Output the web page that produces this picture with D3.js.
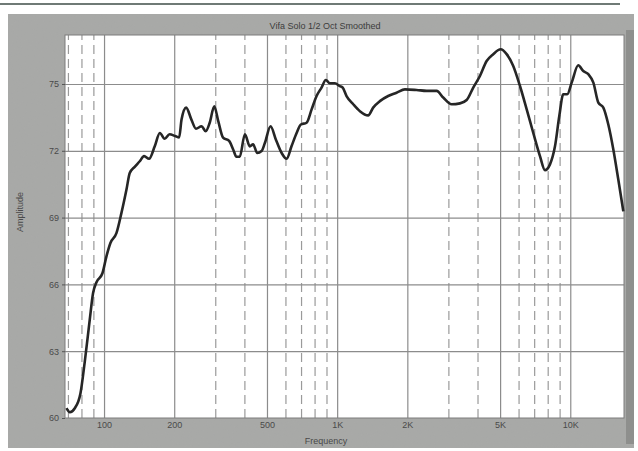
<!DOCTYPE html>
<html>
<head>
<meta charset="utf-8">
<script src="https://cdn.jsdelivr.net/npm/d3@7"></script>
<style>
  body { margin: 0; background: #fff; }
  svg { display: block; font-family: "Liberation Sans", Arial, sans-serif; }
</style>
</head>
<body>
<div id="chart"></div>
<script>
// frequency response (Hz, dB)
const freqs = [69, 71.3, 74.9, 79.2, 82.6, 86.8, 89.7, 92.8, 98.4, 102.4,
  106.5, 113, 118.7, 124.8, 128.9, 135.4, 142.3, 148.5, 156, 165,
  173.5, 182, 191, 202, 210, 215, 225, 237, 248, 262,
  273, 284, 297, 309, 324, 344, 358, 370, 382, 402,
  422, 436, 454, 474, 490, 518, 546, 578, 607, 637,
  670, 699, 739, 777, 816, 857, 894, 930, 978, 1027,
  1055, 1097, 1172, 1252, 1358, 1427, 1525, 1655, 1798, 1953,
  2192, 2419, 2671, 2851, 3097, 3363, 3593, 3835, 4097, 4377,
  4672, 5027, 5333, 5693, 6084, 6502, 6939, 7413, 7788, 8183,
  8598, 8972, 9333, 9708, 10140, 10820, 11370, 11950, 12560, 13190,
  13860, 14560, 15300, 16070, 16890];
const amplitude = [60.44, 60.26, 60.44, 61.1, 62.5, 64.4, 65.6, 66.1, 66.5, 67.26,
  67.86, 68.3, 69.2, 70.26, 71.0, 71.28, 71.53, 71.76, 71.64, 72.2,
  72.8, 72.54, 72.74, 72.66, 72.6, 73.4, 73.94, 73.4, 72.99, 73.1,
  72.88, 73.26, 74.0, 73.33, 72.59, 72.44, 72.06, 71.73, 71.73, 72.74,
  72.2, 72.29, 71.9, 71.99, 72.36, 73.1, 72.5, 71.9, 71.64, 72.2,
  72.8, 73.18, 73.26, 73.86, 74.46, 74.84, 75.18, 75.03, 75.03, 74.9,
  74.84, 74.46, 74.09, 73.78, 73.59, 73.94, 74.23, 74.46, 74.61, 74.76,
  74.73, 74.69, 74.69, 74.39, 74.09, 74.13, 74.28, 74.84, 75.36, 76.03,
  76.34, 76.56, 76.34, 75.81, 74.91, 73.86, 72.8, 71.76, 71.13, 71.39,
  72.2, 73.56, 74.54, 74.54, 75.06, 75.84, 75.58, 75.44, 75.06, 74.16,
  73.94, 73.18, 72.06, 70.71, 69.28];

const yTicks = [60, 63, 66, 69, 72, 75];
const majorFreqs = [100, 200, 500, 1000, 2000, 5000, 10000];
const majorLabels = ['100', '200', '500', '1K', '2K', '5K', '10K'];
const minorFreqs = [70, 80, 90, 300, 400, 600, 700, 800, 900, 3000, 4000, 6000, 7000, 8000, 9000];
const title = 'Vifa Solo 1/2 Oct Smoothed';

const W = 638, H = 451;
const plot = {left: 65, right: 624, top: 35, bottom: 418};

const svg = d3.select('#chart').append('svg')
  .attr('width', W)
  .attr('height', H);

// scanned grey panel
const defs = svg.append('defs');
const noise = defs.append('filter').attr('id', 'grain')
  .attr('x', 0).attr('y', 0).attr('width', '100%').attr('height', '100%');
noise.append('feTurbulence')
  .attr('type', 'fractalNoise').attr('baseFrequency', 0.9).attr('numOctaves', 2).attr('seed', 3);
noise.append('feColorMatrix')
  .attr('type', 'matrix')
  .attr('values', '0 0 0 0 0.35  0 0 0 0 0.35  0 0 0 0 0.35  0 0 0 0.35 0');

svg.append('rect')
  .attr('x', 0).attr('y', 3).attr('width', 620).attr('height', 2)
  .attr('fill', '#6f7a76');

svg.append('rect')
  .attr('x', 8).attr('y', 14).attr('width', 626).attr('height', 434)
  .attr('fill', '#a9aaa8');
svg.append('rect')
  .attr('x', 8).attr('y', 14).attr('width', 626).attr('height', 434)
  .attr('filter', 'url(#grain)')
  .attr('opacity', 0.5);
svg.append('rect')
  .attr('x', 626).attr('y', 30).attr('width', 8).attr('height', 414)
  .attr('fill', '#8e8f8d');

svg.append('rect')
  .attr('x', plot.left).attr('y', plot.top)
  .attr('width', plot.right - plot.left).attr('height', plot.bottom - plot.top)
  .attr('fill', '#fff');

const x = d3.scaleLog()
  .domain([68, 17000])
  .range([plot.left, plot.right]);

const y = d3.scaleLinear()
  .domain([60, 77.2])
  .range([plot.bottom, plot.top]);

const plotH = plot.bottom - plot.top;
const plotW = plot.right - plot.left;

// dashed minor verticals
svg.append('g')
  .attr('transform', `translate(0,${plot.bottom})`)
  .call(d3.axisBottom(x).tickValues(minorFreqs).tickSize(-plotH).tickFormat(''))
  .call(g => g.select('.domain').remove())
  .call(g => g.selectAll('line')
    .attr('stroke', '#9a9a9a')
    .attr('stroke-width', 1.2)
    .attr('stroke-dasharray', '9,5'));

// solid major verticals
svg.append('g')
  .attr('transform', `translate(0,${plot.bottom})`)
  .call(d3.axisBottom(x).tickValues(majorFreqs).tickSize(-plotH).tickFormat(''))
  .call(g => g.select('.domain').remove())
  .call(g => g.selectAll('line').attr('stroke', '#8c8c8c').attr('stroke-width', 1.2));

// horizontal grid
svg.append('g')
  .attr('transform', `translate(${plot.left},0)`)
  .call(d3.axisLeft(y).tickValues(yTicks.slice(1)).tickSize(-plotW).tickFormat(''))
  .call(g => g.select('.domain').remove())
  .call(g => g.selectAll('line').attr('stroke', '#8c8c8c').attr('stroke-width', 1.2));

// plot frame
svg.append('rect')
  .attr('x', plot.left).attr('y', plot.top)
  .attr('width', plotW).attr('height', plotH)
  .attr('fill', 'none')
  .attr('stroke', '#7d7d7d')
  .attr('stroke-width', 1);

// tick labels
const xAxis = svg.append('g')
  .attr('transform', `translate(0,${plot.bottom})`)
  .call(d3.axisBottom(x).tickValues(majorFreqs)
    .tickFormat((d, i) => majorLabels[i]).tickSize(0).tickPadding(4));
xAxis.select('.domain').remove();
xAxis.selectAll('text')
  .attr('font-size', 9).attr('fill', '#4a4a4a').attr('font-family', 'Liberation Sans, Arial, sans-serif');

const yAxis = svg.append('g')
  .attr('transform', `translate(${plot.left},0)`)
  .call(d3.axisLeft(y).tickValues(yTicks).tickSize(3).tickPadding(3));
yAxis.select('.domain').remove();
yAxis.selectAll('line').attr('stroke', '#555');
yAxis.selectAll('text')
  .attr('font-size', 9).attr('fill', '#4a4a4a').attr('font-family', 'Liberation Sans, Arial, sans-serif');

// titles
svg.append('text')
  .attr('x', 325).attr('y', 29)
  .attr('text-anchor', 'middle')
  .attr('font-size', 9).attr('fill', '#3c3c3c')
  .text(title);

svg.append('text')
  .attr('x', 326).attr('y', 444)
  .attr('text-anchor', 'middle')
  .attr('font-size', 9).attr('fill', '#4a4a4a')
  .text('Frequency');

svg.append('text')
  .attr('transform', 'translate(23,212) rotate(-90)')
  .attr('text-anchor', 'middle')
  .attr('font-size', 9).attr('fill', '#4a4a4a')
  .text('Amplitude');

// response curve
const points = freqs.map((f, i) => [f, amplitude[i]]);
const line = d3.line()
  .x(d => x(d[0]))
  .y(d => y(d[1]))
  .curve(d3.curveMonotoneX);

svg.append('path')
  .datum(points)
  .attr('d', line)
  .attr('fill', 'none')
  .attr('stroke', '#262626')
  .attr('stroke-width', 2.6)
  .attr('stroke-linejoin', 'round');
</script>
</body>
</html>
